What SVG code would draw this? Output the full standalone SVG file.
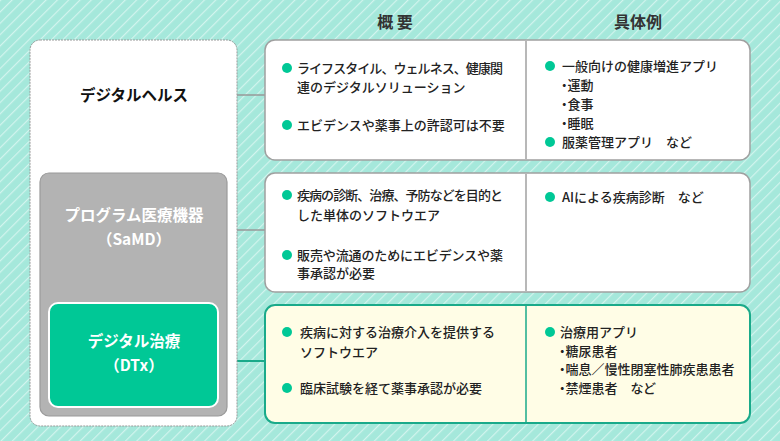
<svg xmlns="http://www.w3.org/2000/svg" width="780" height="441" viewBox="0 0 780 441">
<defs>
<pattern id="stripes" width="8" height="8" patternUnits="userSpaceOnUse" patternTransform="rotate(45)">
<rect width="8" height="8" fill="#a5e8db"/>
<rect x="0" y="0" width="1.2" height="8" fill="#d2f4ee"/>
</pattern>
<style>
.t{font-family:"Noto Sans CJK JP","Noto Sans",sans-serif;font-size:13px;fill:#222;font-weight:500}
.p{font-feature-settings:"palt"}
.h{font-family:"Noto Sans CJK JP","Noto Sans",sans-serif;font-size:16px;fill:#333;font-weight:700;text-anchor:middle}
.n{font-family:"Noto Sans CJK JP","Noto Sans",sans-serif;font-size:15.5px;font-weight:700;text-anchor:middle}
.dot{fill:#00c896}
.panel{fill:#fff;stroke:#a0a0a0;stroke-width:1.5}
.div{stroke:#a0a0a0;stroke-width:1.5}
.gline{stroke:#999;stroke-width:1.5;fill:none}
</style>
</defs>
<rect width="780" height="441" fill="url(#stripes)"/>

<text class="h" x="395" y="28">概 要</text>
<text class="h" x="638" y="28">具体例</text>

<g id="connectors">
<line class="gline" x1="237" y1="95" x2="265" y2="95"/>
<line class="gline" x1="227" y1="230" x2="265" y2="230"/>
<line x1="218" y1="361" x2="265" y2="361" stroke="#1aaa8a" stroke-width="1.8"/>
</g>

<g id="digital-health">
<rect x="30" y="40" width="207" height="386" rx="10" fill="#fff" stroke="#999" stroke-width="1" stroke-dasharray="2 1"/>
<text class="n" x="134" y="101" fill="#111">デジタルヘルス</text>
</g>

<g id="samd">
<rect x="40" y="173" width="187" height="243" rx="9" fill="#b3b3b3" stroke="#9a9a9a" stroke-width="1.2"/>
<text class="n" x="134" y="221" fill="#fff">プログラム医療機器</text>
<text class="n" x="134" y="245" fill="#fff">（SaMD）</text>
</g>

<g id="dtx">
<rect x="49" y="303" width="169" height="104" rx="9" fill="#00c896" stroke="#fff" stroke-width="2"/>
<text class="n" x="134" y="347" fill="#fff">デジタル治療</text>
<text class="n" x="134" y="371" fill="#fff">（DTx）</text>
</g>

<g id="panel-health">
<rect class="panel" x="265" y="40" width="485" height="120" rx="10"/>
<line class="div" x1="526" y1="41" x2="526" y2="159"/>
<circle class="dot" cx="287" cy="68" r="5"/>
<text class="t" x="297" y="72.5" textLength="206" lengthAdjust="spacing">ライフスタイル、ウェルネス、健康関</text>
<text class="t" x="297" y="91.5">連のデジタルソリューション</text>
<circle class="dot" cx="287" cy="125" r="5"/>
<text class="t" x="297" y="129.5">エビデンスや薬事上の許認可は不要</text>
<circle class="dot" cx="550" cy="66" r="5"/>
<text class="t" x="562" y="70.5">一般向けの健康増進アプリ</text>
<text class="t p" x="561" y="89.5">・運動</text>
<text class="t p" x="561" y="108.5">・食事</text>
<text class="t p" x="561" y="127.5">・睡眠</text>
<circle class="dot" cx="550" cy="142" r="5"/>
<text class="t" x="562" y="146.5">服薬管理アプリ　など</text>
</g>

<g id="panel-samd">
<rect class="panel" x="265" y="173" width="485" height="119" rx="10"/>
<line class="div" x1="526" y1="174" x2="526" y2="291"/>
<circle class="dot" cx="287" cy="195" r="5"/>
<text class="t" x="297" y="199.5" textLength="206" lengthAdjust="spacing">疾病の診断、治療、予防などを目的と</text>
<text class="t" x="297" y="219.5">した単体のソフトウエア</text>
<circle class="dot" cx="287" cy="255" r="5"/>
<text class="t" x="297" y="259.5" textLength="206" lengthAdjust="spacing">販売や流通のためにエビデンスや薬</text>
<text class="t" x="297" y="278">事承認が必要</text>
<circle class="dot" cx="550" cy="197" r="5"/>
<text class="t" x="562" y="201.5">AIによる疾病診断　など</text>
</g>

<g id="panel-dtx">
<rect x="265" y="305" width="485" height="118" rx="10" fill="#fffde6" stroke="#1aaa8a" stroke-width="2"/>
<line x1="526" y1="306" x2="526" y2="422" stroke="#1aaa8a" stroke-width="1.5"/>
<circle class="dot" cx="287" cy="332" r="5"/>
<text class="t" x="300" y="336.5">疾病に対する治療介入を提供する</text>
<text class="t" x="300" y="356.5">ソフトウエア</text>
<circle class="dot" cx="287" cy="388" r="5"/>
<text class="t" x="300" y="392.5">臨床試験を経て薬事承認が必要</text>
<circle class="dot" cx="550" cy="332" r="5"/>
<text class="t" x="560" y="336.5">治療用アプリ</text>
<text class="t p" x="559" y="355.5">・糖尿患者</text>
<text class="t p" x="559" y="373.5">・喘息／慢性閉塞性肺疾患患者</text>
<text class="t p" x="559" y="392.5">・禁煙患者　など</text>
</g>
</svg>
